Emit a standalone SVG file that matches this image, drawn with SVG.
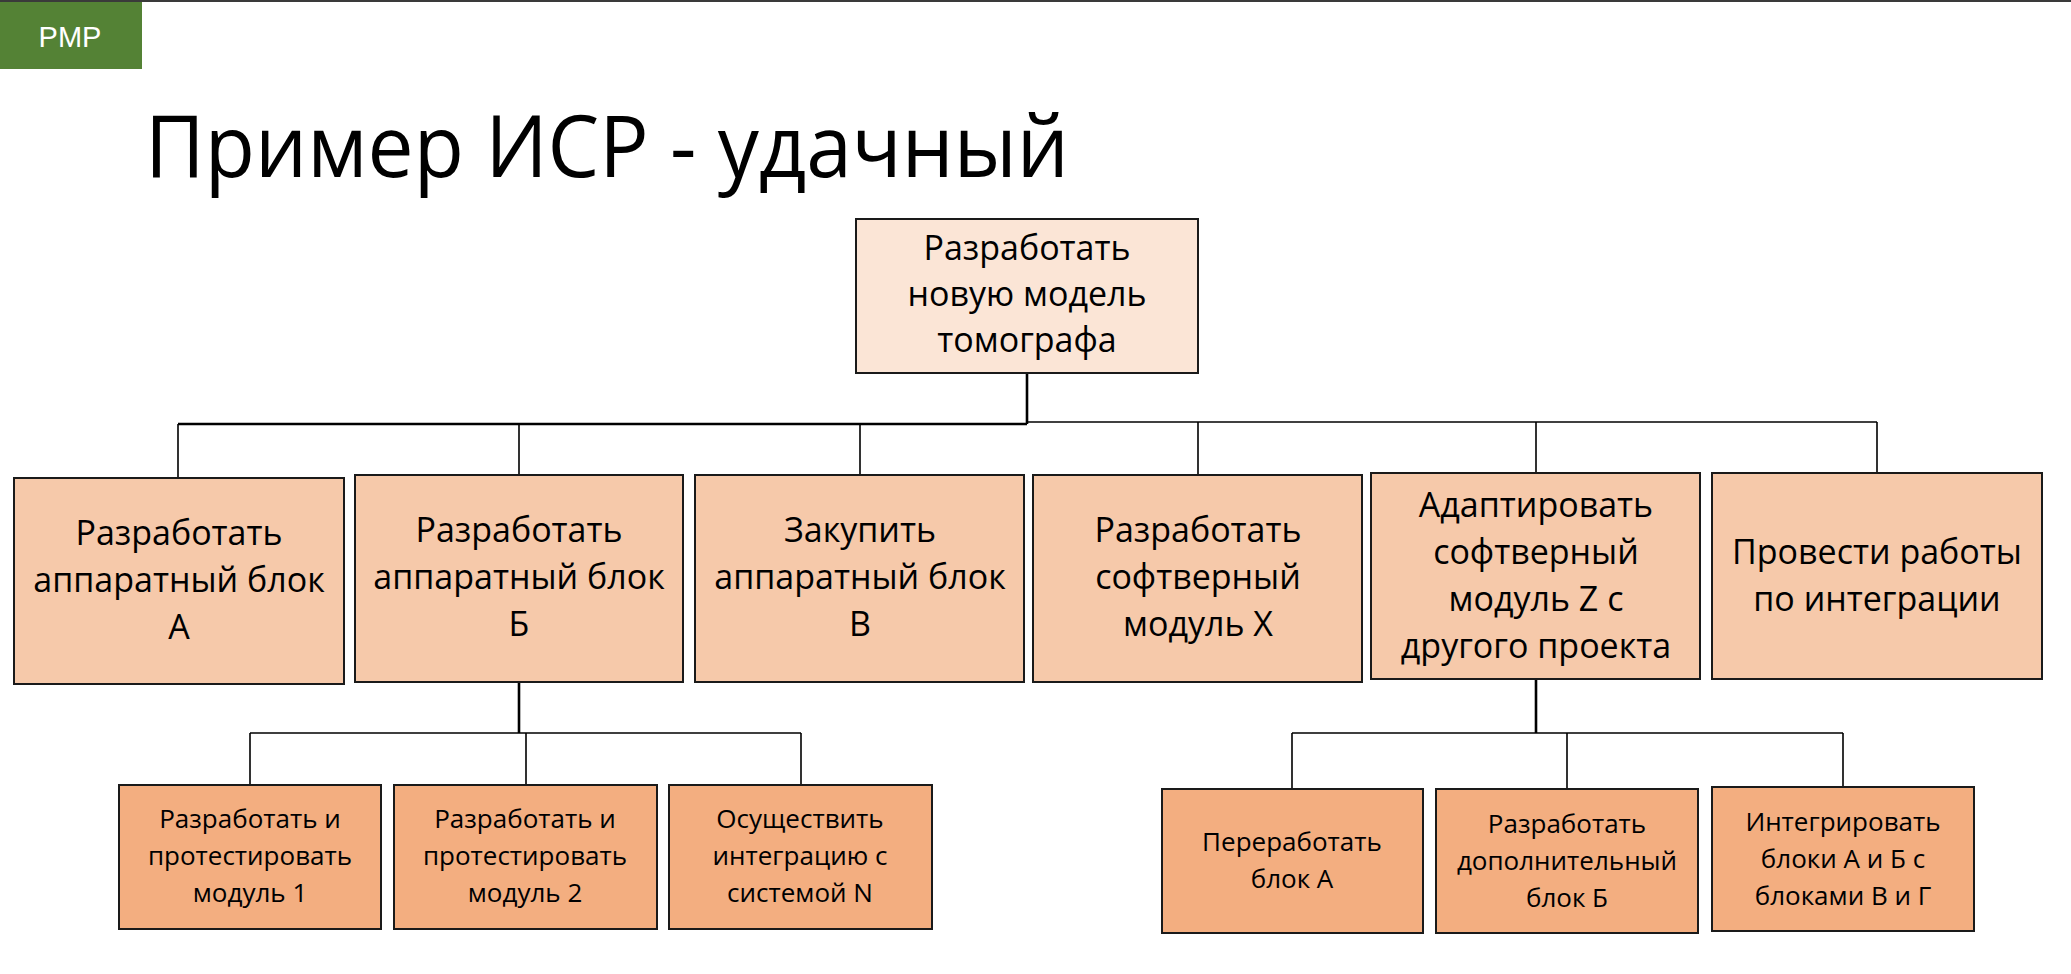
<svg xmlns="http://www.w3.org/2000/svg" width="2071" height="974" viewBox="0 0 2071 974">
<style>
.bg{fill:#ffffff}
.n0{fill:#FBE5D6;stroke:#1a1a1a;stroke-width:2}
.n1{fill:#F6C9AA;stroke:#1a1a1a;stroke-width:2}
.n2{fill:#F3AE80;stroke:#1a1a1a;stroke-width:2}
.t{font-family:"Open Sans","Noto Sans",sans-serif;fill:#000;text-anchor:middle}
.t1{font-size:34px}
.t2{font-size:26px}
.c{fill:none;stroke:#000;stroke-width:1.6}
.ct{fill:none;stroke:#000;stroke-width:2.6}
</style>
<rect class="bg" x="0" y="0" width="2071" height="974"/>
<rect x="0" y="0" width="2071" height="2" fill="#3a3a3a"/>
<g id="badge">
<rect x="0" y="2" width="142" height="67" fill="#548235"/>
<text x="70" y="47" font-family="Liberation Sans, Arial, sans-serif" font-size="29" fill="#ffffff" text-anchor="middle">PMP</text>
</g>
<g id="title">
<text x="145" y="177" font-family="Open Sans, Noto Sans, sans-serif" font-size="86" fill="#000" textLength="924" lengthAdjust="spacingAndGlyphs">Пример ИСР - удачный</text>
</g>
<g id="connectors">
<path class="ct" d="M1027,373 V424"/>
<path class="ct" d="M178,424 H1027"/>
<path class="c" d="M1027,422 H1877"/>
<path class="c" d="M178,424 V478 M519,424 V475 M860,424 V475 M1198,422 V475 M1536,422 V473 M1877,422 V473"/>
<path class="ct" d="M519,682 V733"/>
<path class="c" d="M250,733 H801 M250,733 V785 M526,733 V785 M801,733 V785"/>
<path class="ct" d="M1536,679 V733"/>
<path class="c" d="M1292,733 H1843 M1292,733 V789 M1567,733 V789 M1843,733 V787"/>
</g>
<g id="root">
<rect class="n0" x="856" y="219" width="342" height="154"/>
<text class="t t1" x="1027" y="260">Разработать</text>
<text class="t t1" x="1027" y="306">новую модель</text>
<text class="t t1" x="1027" y="352">томографа</text>
</g>
<g id="n1">
<rect class="n1" x="14" y="478" width="330" height="206"/>
<text class="t t1" x="179" y="545">Разработать</text>
<text class="t t1" x="179" y="592">аппаратный блок</text>
<text class="t t1" x="179" y="639">А</text>
</g>
<g id="n2">
<rect class="n1" x="355" y="475" width="328" height="207"/>
<text class="t t1" x="519" y="542">Разработать</text>
<text class="t t1" x="519" y="589">аппаратный блок</text>
<text class="t t1" x="519" y="636">Б</text>
</g>
<g id="n3">
<rect class="n1" x="695" y="475" width="329" height="207"/>
<text class="t t1" x="860" y="542">Закупить</text>
<text class="t t1" x="860" y="589">аппаратный блок</text>
<text class="t t1" x="860" y="636">В</text>
</g>
<g id="n4">
<rect class="n1" x="1033" y="475" width="329" height="207"/>
<text class="t t1" x="1198" y="542">Разработать</text>
<text class="t t1" x="1198" y="589">софтверный</text>
<text class="t t1" x="1198" y="636">модуль X</text>
</g>
<g id="n5">
<rect class="n1" x="1371" y="473" width="329" height="206"/>
<text class="t t1" x="1536" y="517">Адаптировать</text>
<text class="t t1" x="1536" y="564">софтверный</text>
<text class="t t1" x="1536" y="611">модуль Z с</text>
<text class="t t1" x="1536" y="658">другого проекта</text>
</g>
<g id="n6">
<rect class="n1" x="1712" y="473" width="330" height="206"/>
<text class="t t1" x="1877" y="564">Провести работы</text>
<text class="t t1" x="1877" y="611">по интеграции</text>
</g>
<g id="n21">
<rect class="n2" x="119" y="785" width="262" height="144"/>
<text class="t t2" x="250" y="828">Разработать и</text>
<text class="t t2" x="250" y="865">протестировать</text>
<text class="t t2" x="250" y="902">модуль 1</text>
</g>
<g id="n22">
<rect class="n2" x="394" y="785" width="263" height="144"/>
<text class="t t2" x="525" y="828">Разработать и</text>
<text class="t t2" x="525" y="865">протестировать</text>
<text class="t t2" x="525" y="902">модуль 2</text>
</g>
<g id="n23">
<rect class="n2" x="669" y="785" width="263" height="144"/>
<text class="t t2" x="800" y="828">Осуществить</text>
<text class="t t2" x="800" y="865">интеграцию с</text>
<text class="t t2" x="800" y="902">системой N</text>
</g>
<g id="n51">
<rect class="n2" x="1162" y="789" width="261" height="144"/>
<text class="t t2" x="1292" y="851">Переработать</text>
<text class="t t2" x="1292" y="888">блок А</text>
</g>
<g id="n52">
<rect class="n2" x="1436" y="789" width="262" height="144"/>
<text class="t t2" x="1567" y="833">Разработать</text>
<text class="t t2" x="1567" y="870">дополнительный</text>
<text class="t t2" x="1567" y="907">блок Б</text>
</g>
<g id="n53">
<rect class="n2" x="1712" y="787" width="262" height="144"/>
<text class="t t2" x="1843" y="831">Интегрировать</text>
<text class="t t2" x="1843" y="868">блоки А и Б с</text>
<text class="t t2" x="1843" y="905">блоками В и Г</text>
</g>
</svg>
